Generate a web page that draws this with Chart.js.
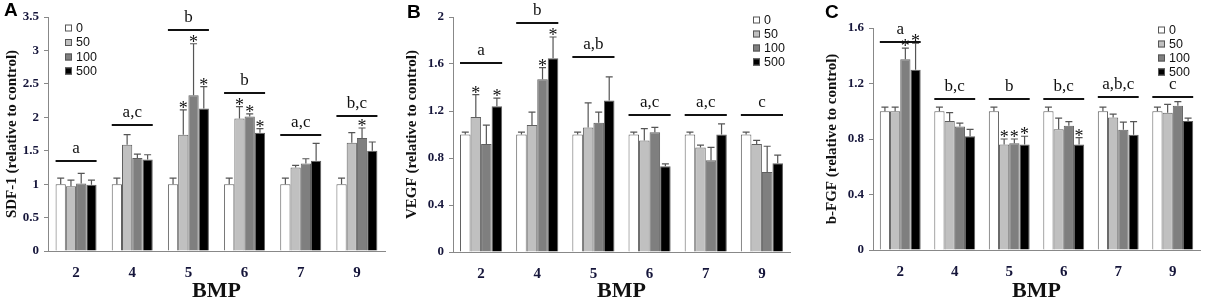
<!DOCTYPE html>
<html>
<head>
<meta charset="utf-8">
<script src="https://cdn.jsdelivr.net/npm/chart.js@4"></script>
<style>
  body { margin: 0; background: #fff; }
  #wrap { position: relative; width: 1205px; height: 301px; overflow: hidden; }
  .panel { position: absolute; top: 0; }
  .tag { position: absolute; font: bold 19px "Liberation Sans", Arial, sans-serif; color: #000; line-height: 1; }
</style>
</head>
<body>
<div id="wrap">
  <div class="panel" style="left:0px"><canvas id="chartA" width="400" height="301"></canvas></div>
  <div class="panel" style="left:400px"><canvas id="chartB" width="405" height="301"></canvas></div>
  <div class="panel" style="left:805px"><canvas id="chartC" width="400" height="301"></canvas></div>
  <div class="tag" style="left:4px;top:0px">A</div>
  <div class="tag" style="left:407px;top:2px">B</div>
  <div class="tag" style="left:825px;top:2px">C</div>
</div>
<script>
const categories = ['2', '4', '5', '6', '7', '9'];
const doses = ['0', '50', '100', '500'];
const doseColors = ['#ffffff', '#c0c0c0', '#7f7f7f', '#000000'];

// SDF-1 (panel A): means and SD (upper whisker only)
const sdf0 = [1, 1, 1, 1, 1, 1];
const sdf50 = [0.97, 1.59, 1.74, 1.98, 1.25, 1.62];
const sdf100 = [1.01, 1.39, 2.33, 2.01, 1.31, 1.69];
const sdf500 = [0.99, 1.37, 2.13, 1.77, 1.35, 1.50];
const sdfSd0 = [0.09, 0.09, 0.09, 0.09, 0.09, 0.09];
const sdfSd50 = [0.09, 0.15, 0.37, 0.18, 0.03, 0.15];
const sdfSd100 = [0.15, 0.06, 0.77, 0.04, 0.07, 0.15];
const sdfSd500 = [0.07, 0.07, 0.33, 0.06, 0.26, 0.13];
const sdfGroups = ['a', 'a,c', 'b', 'b', 'a,c', 'b,c'];
const sdfGroupLevels = [1.345, 1.88, 3.31, 2.37, 1.73, 2.02];
const sdfStars = [[1, 2], [2, 2], [3, 2], [1, 3], [2, 3], [3, 3], [2, 5]];

// VEGF (panel B)
const vegf0 = [1, 1, 1, 1, 1, 1];
const vegf50 = [1.15, 1.08, 1.06, 0.95, 0.89, 0.92];
const vegf100 = [0.92, 1.47, 1.10, 1.02, 0.78, 0.68];
const vegf500 = [1.24, 1.65, 1.29, 0.73, 1.00, 0.755];
const vegfSd0 = [0.02, 0.02, 0.02, 0.02, 0.02, 0.02];
const vegfSd50 = [0.19, 0.11, 0.21, 0.10, 0.02, 0.03];
const vegfSd100 = [0.16, 0.10, 0.09, 0.04, 0.11, 0.22];
const vegfSd500 = [0.07, 0.18, 0.20, 0.02, 0.09, 0.07];
const vegfGroups = ['a', 'b', 'a,b', 'a,c', 'a,c', 'c'];
const vegfGroupLevels = [1.61, 1.95, 1.66, 1.17, 1.17, 1.17];
const vegfStars = [[1, 0], [3, 0], [2, 1], [3, 1]];

// b-FGF (panel C)
const fgf0 = [1, 1, 1, 1, 1, 1];
const fgf50 = [1.0, 0.93, 0.76, 0.87, 0.955, 0.99];
const fgf100 = [1.375, 0.89, 0.77, 0.895, 0.866, 1.04];
const fgf500 = [1.30, 0.82, 0.76, 0.76, 0.83, 0.93];
const fgfSd0 = [0.03, 0.03, 0.03, 0.03, 0.03, 0.03];
const fgfSd50 = [0.03, 0.06, 0.04, 0.08, 0.025, 0.06];
const fgfSd100 = [0.08, 0.025, 0.03, 0.03, 0.055, 0.03];
const fgfSd500 = [0.19, 0.05, 0.06, 0.05, 0.095, 0.02];
const fgfGroups = ['a', 'b,c', 'b', 'b,c', 'a,b,c', 'c'];
const fgfGroupLevels = [1.50, 1.09, 1.09, 1.09, 1.105, 1.105];
const fgfStars = [[2, 0], [3, 0], [1, 2], [2, 2], [3, 2], [3, 3]];

const tickColor = '#15153a';
const serif = '"Liberation Serif", "Times New Roman", serif';

// error bars, group lines + letters, asterisks, legend
const annotations = {
    id: 'annotations',
    afterDatasetsDraw(chart, args, opts) {
        const ctx = chart.ctx;
        const y = chart.scales.y;
        ctx.save();

        // error bars
        ctx.strokeStyle = '#555';
        ctx.lineWidth = 1.2;
        chart.data.datasets.forEach((ds, di) => {
            const meta = chart.getDatasetMeta(di);
            meta.data.forEach((bar, i) => {
                const top = y.getPixelForValue(ds.data[i] + ds.sd[i]);
                ctx.beginPath();
                ctx.moveTo(bar.x, bar.y);
                ctx.lineTo(bar.x, top);
                ctx.moveTo(bar.x - 3.5, top);
                ctx.lineTo(bar.x + 3.5, top);
                ctx.stroke();
            });
        });

        // group lines with letters
        const first = chart.getDatasetMeta(0).data;
        const last = chart.getDatasetMeta(3).data;
        ctx.fillStyle = '#111';
        ctx.font = '17px ' + serif;
        ctx.textAlign = 'center';
        ctx.textBaseline = 'alphabetic';
        opts.groups.forEach((g, i) => {
            const x1 = first[i].x - first[i].width / 2;
            const x2 = last[i].x + last[i].width / 2;
            const ly = Math.round(y.getPixelForValue(opts.levels[i]));
            ctx.fillRect(x1, ly - 1, x2 - x1, 2);
            ctx.fillText(g, (x1 + x2) / 2, ly - 8);
        });

        // asterisks
        ctx.font = '18px ' + serif;
        opts.stars.forEach(s => {
            const ds = chart.data.datasets[s[0]];
            const bar = chart.getDatasetMeta(s[0]).data[s[1]];
            const top = y.getPixelForValue(ds.data[s[1]] + ds.sd[s[1]]);
            ctx.fillText('*', bar.x, top + 4);
        });

        // legend
        ctx.font = '12.5px "Liberation Sans", Arial, sans-serif';
        ctx.textAlign = 'left';
        ctx.textBaseline = 'middle';
        ctx.lineWidth = 1;
        doses.forEach((d, i) => {
            const ry = opts.legendY[i];
            ctx.fillStyle = doseColors[i];
            ctx.fillRect(opts.legendX, ry - 3.5, 7, 7);
            ctx.strokeStyle = '#555';
            ctx.strokeRect(opts.legendX + 0.5, ry - 3, 6, 6);
            ctx.fillStyle = '#111';
            ctx.fillText(d, opts.legendX + 11, ry + 0.5);
        });
        ctx.restore();
    }
};

function makeChart(id, p) {
    const datasets = doses.map((d, i) => ({
        label: d,
        data: p.means[i],
        sd: p.sds[i],
        backgroundColor: doseColors[i],
        borderColor: '#606060',
        borderWidth: 1,
        categoryPercentage: p.catPct,
        barPercentage: 1.0
    }));
    return new Chart(document.getElementById(id), {
        type: 'bar',
        data: { labels: categories, datasets: datasets },
        plugins: [annotations],
        options: {
            responsive: false,
            animation: false,
            events: [],
            layout: { padding: { left: p.padLeft, right: p.padRight, top: p.padTop, bottom: 0 } },
            plugins: {
                legend: { display: false },
                tooltip: { enabled: false },
                annotations: { groups: p.groups, levels: p.levels, stars: p.stars, legendX: p.legendX, legendY: p.legendY }
            },
            scales: {
                x: {
                    grid: { display: false },
                    border: { display: true, color: '#888', width: 1 },
                    ticks: { color: tickColor, font: { family: serif, size: 15, weight: 'bold' }, padding: 5 },
                    title: { display: true, text: 'BMP', color: '#111', font: { family: serif, size: 22, weight: 'bold', lineHeight: 0.9 }, padding: 0 },
                    afterFit: s => { s.height = p.xHeight; }
                },
                y: {
                    min: 0,
                    max: p.max,
                    ticks: {
                        stepSize: p.step, color: tickColor, padding: 5,
                        font: { family: serif, size: 13, weight: 'bold' },
                        callback: v => String(+v.toFixed(2))
                    },
                    grid: { display: true, drawOnChartArea: false, drawTicks: true, tickLength: 4, color: '#888' },
                    border: { display: true, color: '#888', width: 1 },
                    title: { display: true, text: p.yTitle, color: '#111', font: { family: serif, size: 15, weight: 'bold' }, padding: { top: 3, bottom: 0 } },
                    afterFit: s => { s.width = p.yWidth; }
                }
            }
        }
    });
}

makeChart('chartA', {
    means: [sdf0, sdf50, sdf100, sdf500],
    sds: [sdfSd0, sdfSd50, sdfSd100, sdfSd500],
    groups: sdfGroups, levels: sdfGroupLevels, stars: sdfStars,
    yTitle: 'SDF-1 (relative to control)', max: 3.5, step: 0.5,
    padLeft: 0, padRight: 15, padTop: 17, yWidth: 48, xHeight: 50, catPct: 0.73,
    legendX: 65, legendY: [28, 42.5, 57, 71]
});

makeChart('chartB', {
    means: [vegf0, vegf50, vegf100, vegf500],
    sds: [vegfSd0, vegfSd50, vegfSd100, vegfSd500],
    groups: vegfGroups, levels: vegfGroupLevels, stars: vegfStars,
    yTitle: 'VEGF (relative to control)', max: 2, step: 0.4,
    padLeft: 0, padRight: 15, padTop: 17, yWidth: 53, xHeight: 49, catPct: 0.75,
    legendX: 353, legendY: [20, 34, 48, 62]
});

makeChart('chartC', {
    means: [fgf0, fgf50, fgf100, fgf500],
    sds: [fgfSd0, fgfSd50, fgfSd100, fgfSd500],
    groups: fgfGroups, levels: fgfGroupLevels, stars: fgfStars,
    yTitle: 'b-FGF (relative to control)', max: 1.6, step: 0.4,
    padLeft: 15, padRight: 5, padTop: 28, yWidth: 53, xHeight: 51, catPct: 0.75,
    legendX: 353, legendY: [30, 44, 58, 72]
});
</script>
</body>
</html>
